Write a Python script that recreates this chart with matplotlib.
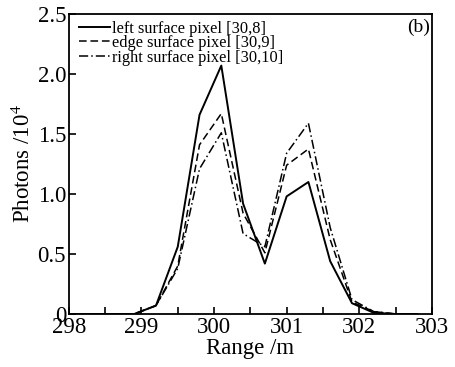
import numpy as np
import matplotlib
matplotlib.use("Agg")
import matplotlib.pyplot as plt
from matplotlib.ticker import MultipleLocator, FuncFormatter

# data (photons in units of 10^4)
rng = [298.0, 298.3, 298.6, 298.9, 299.2, 299.5, 299.8, 300.1, 300.4,
       300.7, 301.0, 301.3, 301.6, 301.9, 302.2, 302.5, 302.8]
left_px = [0.0, 0.0, 0.0, 0.0, 0.07, 0.56, 1.66, 2.07, 0.92,
           0.42, 0.98, 1.10, 0.44, 0.09, 0.01, 0.0, 0.0]
edge_px = [0.0, 0.0, 0.0, 0.0, 0.07, 0.40, 1.41, 1.67, 0.84,
           0.51, 1.24, 1.375, 0.62, 0.10, 0.02, 0.0, 0.0]
right_px = [0.0, 0.0, 0.0, 0.0, 0.07, 0.38, 1.21, 1.51, 0.67,
            0.56, 1.34, 1.59, 0.72, 0.12, 0.02, 0.0, 0.0]
labels = ["left surface pixel [30,8]", "edge surface pixel [30,9]",
          "right surface pixel [30,10]"]

plt.rcParams['font.family'] = ['Liberation Serif', 'DejaVu Serif']
plt.rcParams['mathtext.fontset'] = 'stix'

fig = plt.figure(figsize=(4.56, 3.67), dpi=100)
ax = fig.add_axes([0.151, 0.1444, 0.796, 0.8175])

ax.plot(rng, left_px, color='black', lw=1.4, ls='-', label=labels[0])
ax.plot(rng, edge_px, color='black', lw=1.1, ls=(0, (5, 2.5)), label=labels[1])
ax.plot(rng, right_px, color='black', lw=1.1, ls=(0, (6, 2, 1, 2)), label=labels[2])

ax.set_xlim(298, 303)
ax.set_ylim(0, 2.5)
ax.xaxis.set_major_locator(MultipleLocator(1))
ax.xaxis.set_minor_locator(MultipleLocator(0.5))
ax.yaxis.set_major_locator(MultipleLocator(0.5))
ax.yaxis.set_major_formatter(FuncFormatter(lambda v, p: '0' if v == 0 else '%.1f' % v))
ax.tick_params(which='both', direction='in', labelsize=16.5, width=1.2)
ax.tick_params(which='major', length=5)
ax.tick_params(which='minor', length=5)
ax.tick_params(axis='x', pad=2)
ax.tick_params(axis='y', pad=2)
for s in ax.spines.values():
    s.set_linewidth(1.3)

ax.set_xlabel('Range /m', fontsize=16.5, labelpad=0)
ax.set_ylabel('Photons /10$^4$', fontsize=16.5, labelpad=2)

ax.legend(loc='upper left', frameon=False, fontsize=11.8, handlelength=1.9,
          handletextpad=0.1, labelspacing=-0.08, borderaxespad=0.0,
          bbox_to_anchor=(0.01, 1.0))
ax.text(0.995, 0.985, '(b)', transform=ax.transAxes, ha='right', va='top', fontsize=14)

fig.savefig('out.png', dpi=100)
